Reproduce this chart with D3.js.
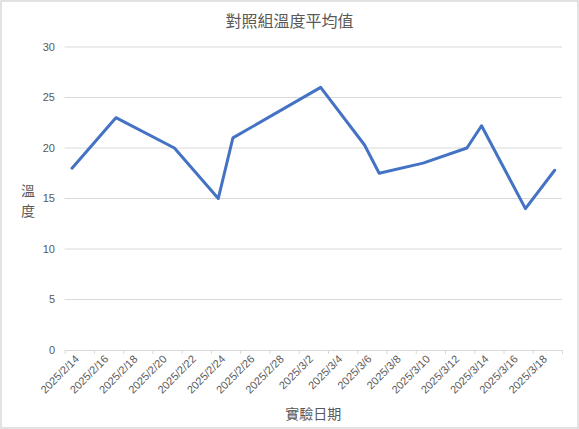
<!DOCTYPE html>
<html><head><meta charset="utf-8">
<script src="https://cdn.jsdelivr.net/npm/d3@7"></script>
<style>
html,body{margin:0;padding:0;background:#fff;}
svg{display:block;}
</style></head>
<body>
<script>
const title = "對照組溫度平均值";
const yTitle = ["溫", "度"];
const xTitle = "實驗日期";
const dates = ["2025-02-14","2025-02-17","2025-02-21","2025-02-24","2025-02-25","2025-03-03","2025-03-06","2025-03-07","2025-03-10","2025-03-13","2025-03-14","2025-03-17","2025-03-19"];
const values = [18, 23, 20, 15, 21, 26, 20.3, 17.5, 18.5, 20, 22.2, 14, 17.8];
const yTicks = [0, 5, 10, 15, 20, 25, 30];
const axisStart = "2025-02-14", axisEnd = "2025-03-20";

const W = 579, H = 429;
const svg = d3.select("body").append("svg").attr("width", W).attr("height", H);
svg.append("rect").attr("x",1).attr("y",1).attr("width",W-2).attr("height",H-2)
  .attr("fill","#fff").attr("stroke","#d9d9d9").attr("stroke-width",1.5);

const parse = d3.utcParse("%Y-%m-%d");
const fmt = d => `${d.getUTCFullYear()}/${d.getUTCMonth()+1}/${d.getUTCDate()}`;
const x = d3.scaleUtc().domain([parse(axisStart), parse(axisEnd)]).range([64.7, 562]);
const y = d3.scaleLinear().domain([0, 30]).range([350, 47]);
const half = d => d3.utcHour.offset(d, 12);

const numFont = "'Liberation Sans', Arial, sans-serif";
const cjkFont = "'Noto Sans CJK TC', 'Noto Sans CJK SC', sans-serif";

// gridlines
svg.append("g").selectAll("line").data(yTicks.filter(v=>v>0)).join("line")
  .attr("x1", 64.7).attr("x2", 562).attr("y1", d=>y(d)).attr("y2", d=>y(d))
  .attr("stroke", "#d9d9d9").attr("stroke-width", 1);

// y tick labels
svg.append("g").selectAll("text").data(yTicks).join("text")
  .attr("x", 55).attr("y", d=>y(d)).attr("dy","0.35em")
  .attr("text-anchor","end").attr("font-family", numFont).attr("font-size", 11)
  .attr("fill","#595959").text(d=>d);

// x axis
const nDays = d3.utcDay.count(parse(axisStart), parse(axisEnd));
const tickDates = d3.range(0, nDays + 1, 2).map(k => d3.utcDay.offset(parse(axisStart), k));
const xAxis = d3.axisBottom(x).tickValues(tickDates).tickSize(4).tickFormat("");
const gx = svg.append("g").attr("transform","translate(0,350)").call(xAxis);
gx.select(".domain").attr("stroke","#d9d9d9").attr("d","M64.7,0.5H562");
gx.selectAll(".tick line").attr("stroke","#d9d9d9");

// x tick labels at slot centers
const labelDates = tickDates.slice(0, -1);
svg.append("g").selectAll("text").data(labelDates).join("text")
  .attr("transform", d => `translate(${x(half(d))+5},${357}) rotate(-45)`)
  .attr("text-anchor","end").attr("dy","0.35em")
  .attr("font-family", numFont).attr("font-size", 11).attr("fill","#595959")
  .text(fmt);

// line
const pts = dates.map((d,i)=>({date: parse(d), v: values[i]}));
svg.append("path").datum(pts)
  .attr("fill","none").attr("stroke","#4472C4").attr("stroke-width",3)
  .attr("stroke-linejoin","round").attr("stroke-linecap","round")
  .attr("d", d3.line().x(d=>x(half(d.date))).y(d=>y(d.v)));

// title
svg.append("text").attr("x", W/2).attr("y", 27).attr("text-anchor","middle")
  .attr("font-family", cjkFont).attr("font-size", 16).attr("fill","#595959").text(title);

// y title stacked
svg.append("g").selectAll("text").data(yTitle).join("text")
  .attr("x", 28).attr("y", (d,i)=>196 + i*20).attr("text-anchor","middle")
  .attr("font-family", cjkFont).attr("font-size", 14).attr("fill","#595959").text(d=>d);

// x title
svg.append("text").attr("x", (64.7+562)/2).attr("y", 419).attr("text-anchor","middle")
  .attr("font-family", cjkFont).attr("font-size", 14).attr("fill","#595959").text(xTitle);
</script>
</body></html>
